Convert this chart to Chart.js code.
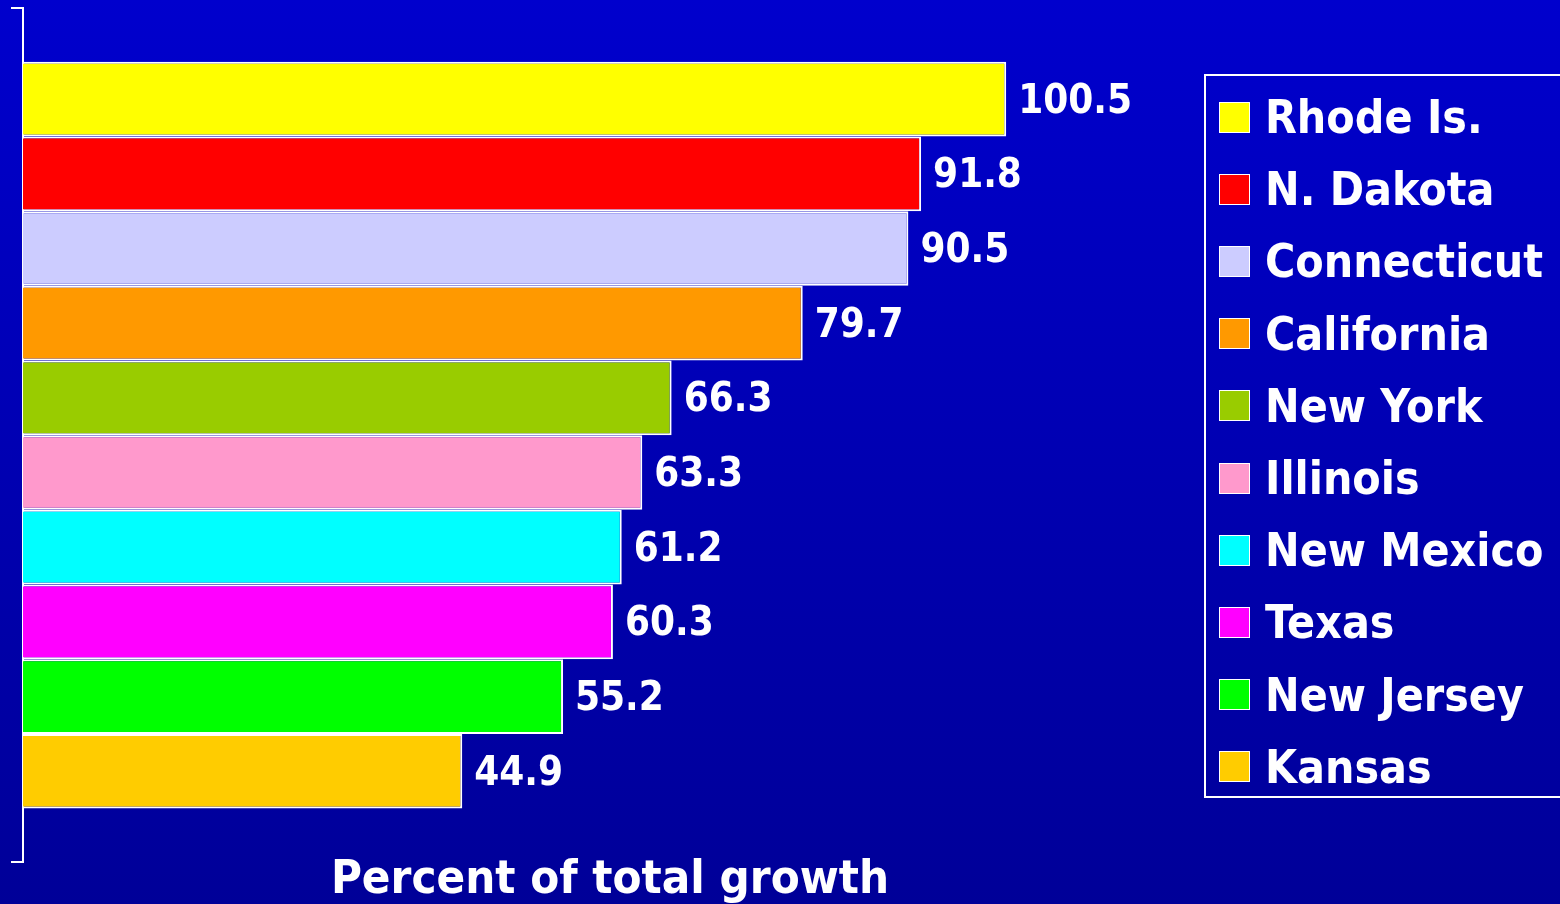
<!DOCTYPE html>
<html>
<head>
<meta charset="utf-8">
<script src="https://cdn.jsdelivr.net/npm/chart.js@4.4.1/dist/chart.umd.min.js"></script>
<style>
  html, body { margin: 0; padding: 0; }
  body {
    width: 1560px; height: 904px; overflow: hidden; position: relative;
    background: linear-gradient(to bottom, #0000cd 0%, #000098 100%);
    font-family: 'DejaVu Sans Condensed', 'DejaVu Sans', sans-serif;
  }
  #chart { position: absolute; left: 0; top: 0; }
  #legend {
    position: absolute; left: 1204px; top: 74px; width: 380px; height: 724px;
    border: 2px solid #fff; box-sizing: border-box; padding-top: 5px;
  }
  #legend ul { list-style: none; margin: 0; padding: 0; }
  #legend li {
    height: 72.2px; display: flex; align-items: center; white-space: nowrap;
    color: #fff; font-weight: bold; font-size: 46px;
  }
  #legend li span.box {
    width: 29px; height: 29px; border: 1px solid #fff; margin-left: 13px; margin-right: 15px;
    flex: none;
  }
</style>
</head>
<body>
<canvas id="chart" width="1560" height="904"></canvas>
<div id="legend"></div>
<script>
const states = ['Rhode Is.', 'N. Dakota', 'Connecticut', 'California', 'New York',
  'Illinois', 'New Mexico', 'Texas', 'New Jersey', 'Kansas'];
const growth = [100.5, 91.8, 90.5, 79.7, 66.3, 63.3, 61.2, 60.3, 55.2, 44.9];
const barColors = ['#ffff00', '#ff0000', '#ccccff', '#ff9900', '#99cc00',
  '#ff99cc', '#00ffff', '#ff00ff', '#00ff00', '#ffcc00'];
const axisTitle = 'Percent of total growth';

const fontFamily = "'DejaVu Sans Condensed', 'DejaVu Sans', sans-serif";

// one category, one dataset per state (like the original clustered bar)
const datasets = states.map((s, i) => ({
  label: s,
  data: [growth[i]],
  backgroundColor: barColors[i],
  borderColor: '#ffffff',
  borderWidth: 2,
  categoryPercentage: 0.874,
  barPercentage: 1
}));

const valueLabels = {
  id: 'valueLabels',
  afterDatasetsDraw(chart) {
    const ctx = chart.ctx;
    ctx.save();
    ctx.fillStyle = '#ffffff';
    ctx.font = 'bold 40px ' + fontFamily;
    ctx.textBaseline = 'middle';
    ctx.textAlign = 'left';
    chart.data.datasets.forEach((ds, i) => {
      const bar = chart.getDatasetMeta(i).data[0];
      ctx.fillText(ds.data[0].toFixed(1), bar.x + 12, bar.y + 3);
    });
    ctx.restore();
  }
};

const htmlLegend = {
  id: 'htmlLegend',
  afterUpdate(chart) {
    const box = document.getElementById('legend');
    const ul = document.createElement('ul');
    chart.data.datasets.forEach(ds => {
      const li = document.createElement('li');
      const sw = document.createElement('span');
      sw.className = 'box';
      sw.style.background = ds.backgroundColor;
      li.appendChild(sw);
      li.appendChild(document.createTextNode(ds.label));
      ul.appendChild(li);
    });
    box.innerHTML = '';
    box.appendChild(ul);
  }
};

new Chart(document.getElementById('chart'), {
  type: 'bar',
  data: { labels: [''], datasets: datasets },
  options: {
    indexAxis: 'y',
    responsive: false,
    animation: false,
    layout: { padding: { left: 11, top: 8, right: 363, bottom: 4 } },
    plugins: {
      legend: { display: false },
      tooltip: { enabled: false }
    },
    scales: {
      x: {
        min: 0,
        max: 120,
        ticks: { display: false },
        grid: { display: false, drawTicks: false },
        border: { display: false },
        title: {
          display: true,
          text: axisTitle,
          color: '#ffffff',
          font: { family: fontFamily, size: 47, weight: 'bold', lineHeight: 0.8 },
          padding: { top: 0, bottom: 0 }
        }
      },
      y: {
        offset: true,
        ticks: { display: false },
        grid: {
          drawOnChartArea: false,
          drawTicks: true,
          tickLength: 12,
          color: '#ffffff',
          lineWidth: 2,
          offset: true
        },
        border: { color: '#ffffff', width: 2 }
      }
    }
  },
  plugins: [valueLabels, htmlLegend]
});
</script>
</body>
</html>
